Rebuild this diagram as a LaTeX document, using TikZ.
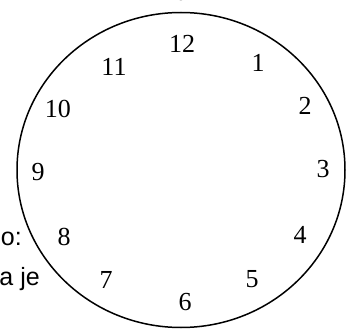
\documentclass[tikz,border=0pt]{standalone}
\usepackage{fontspec}
\usetikzlibrary{shapes.geometric}
\setmainfont{Liberation Serif}
\newfontfamily\arialfont{Liberation Sans}
\begin{document}
\begin{tikzpicture}[x=1pt,y=-1pt,
  num/.style={font=\fontsize{26}{26}\selectfont, inner sep=0pt},
  side/.style={font=\arialfont\fontsize{25}{25}\selectfont, inner sep=0pt, anchor=base east},
  face/.style={draw=black, line width=1.5pt, fill=white}]
\useasboundingbox (0,0) rectangle (346,329);
\node[side] (t1) at (22,245) {o:};
\node[side] (t2) at (40,285) {a je};
\node[font=\arialfont\fontsize{25}{25}\selectfont, inner sep=0pt, anchor=base] (ty) at (185,-4) {y};
\node[face, ellipse, minimum width=328pt, minimum height=315pt, inner sep=0pt] (clock) at (181,170) {};
\node[num] (n12) at (182,44) {12};
\node[num] (n1) at (258,63) {1};
\node[num] (n2) at (305,106) {2};
\node[num] (n3) at (323,169) {3};
\node[num] (n4) at (300,235) {4};
\node[num] (n5) at (252,279) {5};
\node[num] (n6) at (185,302) {6};
\node[num] (n7) at (106,280) {7};
\node[num] (n8) at (64,237) {8};
\node[num] (n9) at (38,172) {9};
\node[num] (n10) at (58,109) {10};
\node[num] (n11) at (114,67) {11};
\end{tikzpicture}
\end{document}
